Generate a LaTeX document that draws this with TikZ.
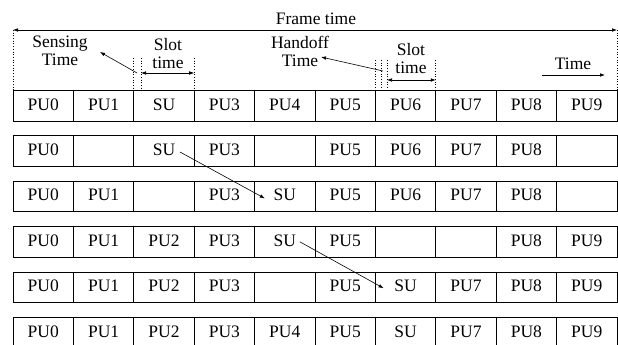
\documentclass[tikz,border=0pt]{standalone}
\usepackage{fontspec}
\setmainfont{Liberation Serif}
\usetikzlibrary{calc}
\usetikzlibrary{positioning,arrows.meta}

\begin{document}
\begin{tikzpicture}[
  x=1pt, y=-1pt,
  >={Latex[length=5pt,width=3.6pt]},   % small filled tips
  every node/.style={font=\fontsize{17.5}{18}\selectfont},
  cell/.style={rectangle, draw, line width=0.8pt, minimum width=60.4pt, minimum height=30.6pt, inner sep=0pt, text height=12pt, text depth=3pt},
  caption/.style={align=center, inner sep=0pt},
  marker/.style={dotted, line width=0.7pt},
  arr/.style={->, line width=0.6pt}
]
\useasboundingbox (0,0) rectangle (618,345);

% Slots of each frame
\foreach \row [count=\r] in {
  {PU0,PU1,SU,PU3,PU4,PU5,PU6,PU7,PU8,PU9},
  {PU0,{},SU,PU3,{},PU5,PU6,PU7,PU8,{}},
  {PU0,PU1,{},PU3,SU,PU5,PU6,PU7,PU8,{}},
  {PU0,PU1,PU2,PU3,SU,PU5,{},{},PU8,PU9},
  {PU0,PU1,PU2,PU3,{},PU5,SU,PU7,PU8,PU9},
  {PU0,PU1,PU2,PU3,PU4,PU5,SU,PU7,PU8,PU9}}{
  \foreach \txt [count=\c] in \row
    \node[cell] (s\r-\c) at ({13+60.4*\c-30.2}, {90.3+45.4*(\r-1)+15.3}) {\txt};
}

% Frame time
\coordinate (fl) at (13,30);
\coordinate (fr) at (617,30);
\draw[<->, line width=0.6pt] (fl) -- (fr);
\node[anchor=base] (frame) at (316,25) {Frame time};
\draw[marker] (fl) -- (fl |- s1-1.north);
\draw[marker] (fr) -- (fr |- s1-10.north);

% Sensing time and first slot
\node[caption] (sensing) at (60,50.6) {Sensing\\Time};
\coordinate (sa) at (137,73);
\coordinate (sb) at (100,52);
\draw[arr] (sa) -- (sb);
\coordinate (m1) at (141,58);
\coordinate (m2) at (194.2,58);
\draw[marker] (133.8,58) -- (133.8,90);
\draw[marker] (m1) -- (m1 |- s1-3.north);
\draw[marker] (m2) -- (m2 |- s1-4.north);
\coordinate (sl1a) at (141,73);
\coordinate (sl1b) at (194.2,73);
\draw[<->, line width=0.6pt] (sl1a) -- (sl1b);
\node[caption] (slot1) at (168,53.6) {Slot\\time};

% Handoff time and second slot
\node[caption] (handoff) at (300,51.6) {Handoff\\Time};
\coordinate (ha) at (383,71);
\coordinate (hb) at (321,57);
\draw[arr] (ha) -- (hb);
\coordinate (m3) at (375.4,60);
\coordinate (m4) at (381.5,60);
\coordinate (m5) at (387,60);
\coordinate (m6) at (435.8,60);
\foreach \m in {m3,m4,m5,m6}
  \draw[marker] (\m) -- (\m |- s1-7.north);
\coordinate (sl2a) at (387,80);
\coordinate (sl2b) at (435.8,80);
\draw[<->, line width=0.6pt] (sl2a) -- (sl2b);
\node[caption] (slot2) at (411,58.6) {Slot\\time};

% Time axis
\node[anchor=base] (time) at (573,70) {Time};
\coordinate (ta) at (542,75);
\coordinate (tb) at (605,75);
\draw[arr] (ta) -- (tb);

% SU moves
\draw[arr] ($(s2-3.center)+(16,1)$) -- ($(s3-5.center)+(-20,2)$);
\draw[arr] ($(s4-5.center)+(15,0)$) -- ($(s5-7.center)+(-22,1)$);
\end{tikzpicture}
\end{document}
